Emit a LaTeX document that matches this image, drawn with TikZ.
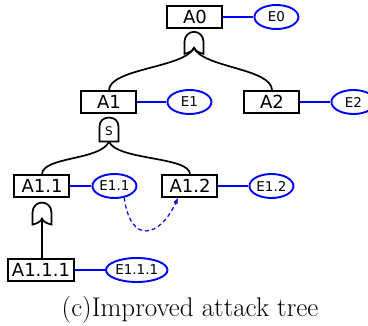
\documentclass[tikz,border=0pt]{standalone}
\usepackage{fontspec}
\newfontfamily\treefont{DejaVu Sans}
\usetikzlibrary{arrows.meta,positioning,shapes.geometric}
\tikzset{
  box/.style   = {rectangle, draw=black, fill=white, line width=2pt,
                  minimum height=21pt, minimum width=55pt, inner sep=4pt,
                  font=\treefont\fontsize{18}{18}\selectfont},
  evt/.style   = {ellipse, draw=blue, fill=white, line width=1.9pt,
                  minimum width=44pt, minimum height=24pt, inner sep=0.3pt,
                  font=\treefont\fontsize{13.5}{13.5}\selectfont},
  ln/.style    = {draw=blue, line width=1.4pt},
  wire/.style  = {draw=black, line width=1.7pt},
  dar/.style   = {-{Latex[length=6pt,width=5pt]}, draw=blue, line width=1.2pt,
                  dash pattern=on 4pt off 3pt},
  gate/.style  = {draw=black, fill=white, line width=1.7pt},
  % OR gate, output at the notch
  orgate/.pic  = {
    \path[gate] (-9.5,22) -- (-9.5,10) .. controls (-9.5,4) and (-5,0) .. (0,0)
      .. controls (5,0) and (9.5,4) .. (9.5,10) -- (9.5,22)
      .. controls (5,21) and (1,19) .. (0,16) .. controls (-1,19) and (-5,21) .. (-9.5,22) -- cycle;
    \coordinate (-out) at (0,16);
  },
  % sequential AND gate
  seqgate/.pic = {
    \path[gate] (-9.5,24) -- (-9.5,9) .. controls (-9.5,3) and (-5,0) .. (0,0)
      .. controls (5,0) and (9.5,3) .. (9.5,9) -- (9.5,24) -- cycle;
    \node[inner sep=0pt, font=\treefont\fontsize{12}{12}\selectfont] (-lbl) at (0,14) {S};
    \coordinate (-out) at (0,24);
  }
}
\begin{document}
\begin{tikzpicture}[x=1pt, y=-1pt]
    \useasboundingbox (0,0) rectangle (368,326);
    \node[box] (a0) at (195,17) {A0};
    \node[evt, right=30pt of a0] (e0) {E0};
    \node[box] (a1) at (109,102) {A1};
    \node[evt, right=29pt of a1] (e1) {E1};
    \node[box] (a2) at (272,102) {A2};
    \node[evt, right=30pt of a2] (e2) {E2};
    \node[box] (a11) at (42,186) {A1.1};
    \node[evt, right=21pt of a11] (e11) {E1.1};
    \node[box] (a12) at (190,186) {A1.2};
    \node[evt, right=30pt of a12] (e12) {E1.2};
    \node[box] (a111) at (41,270) {A1.1.1};
    \node[evt, right=30pt of a111, minimum width=60pt] (e111) {E1.1.1};

    \draw[ln] (a0) -- (e0); \draw[ln] (a1) -- (e1); \draw[ln] (a2) -- (e2);
    \draw[ln] (a11) -- (e11); \draw[ln] (a12) -- (e12); \draw[ln] (a111) -- (e111);

    % gates below the parent boxes
    \pic (g0) at ([xshift=-1pt, yshift=-3pt]a0.south) {orgate};
    \pic (g1) at ([yshift=-4pt]a1.south) {seqgate};
    \pic (g2) at ([yshift=-5pt]a11.south) {orgate};

    \draw[wire] (g0-out) .. controls +(-9,20) and +(0,-22) .. (a1.north);
    \draw[wire] (g0-out) .. controls +(9,20) and +(0,-22) .. (a2.north);
    \draw[wire] (g1-out) .. controls +(-8,19) and +(0,-18) .. (a11.north);
    \draw[wire] (g1-out) .. controls +(8,19) and +(0,-18) .. (a12.north);
    \draw[wire] (g2-out) -- (g2-out |- a111.north);

    \draw[dar] (e11.-50) .. controls +(6,47) and +(-18,40) .. ([xshift=-12pt]a12.south);

    \node[font=\rmfamily\fontsize{27}{30}\selectfont] (cap) at (190,310) {(c)Improved attack tree};
  \end{tikzpicture}
\end{document}
